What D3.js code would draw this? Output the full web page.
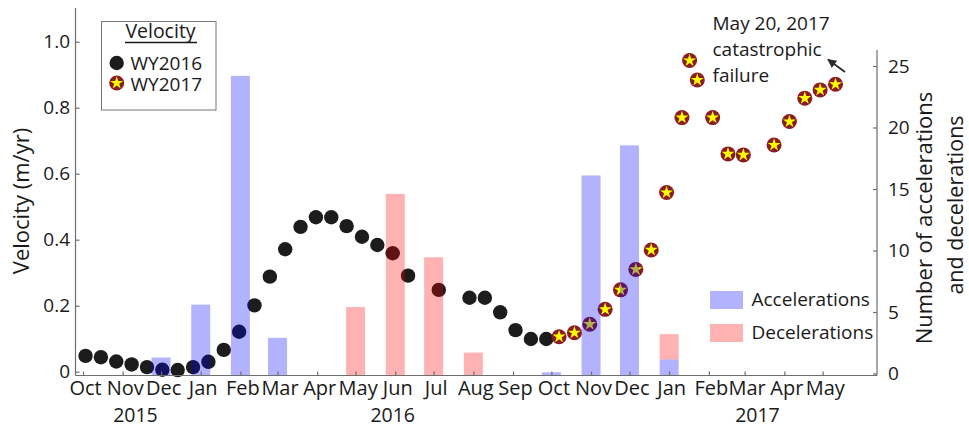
<!DOCTYPE html>
<html>
<head>
<meta charset="utf-8">
<script src="https://cdn.jsdelivr.net/npm/d3@7"></script>
<style>
  html, body { margin: 0; padding: 0; background: #fff; }
  svg { display: block; }
  text { font-family: "Open Sans", "Noto Sans", sans-serif; fill: #1a1a1a; }
</style>
</head>
<body>
<svg id="chart" width="969" height="427"></svg>
<script>
// ---------------- DATA ----------------
const wy2016Dates = ["2015-10-03","2015-10-15","2015-10-27","2015-11-08","2015-11-20","2015-12-02",
  "2015-12-14","2015-12-26","2016-01-07","2016-01-19","2016-01-31","2016-02-12","2016-02-24",
  "2016-03-07","2016-03-19","2016-03-31","2016-04-12","2016-04-24","2016-05-06","2016-05-18",
  "2016-05-30","2016-06-11","2016-07-05","2016-07-29","2016-08-10","2016-08-22","2016-09-03",
  "2016-09-15","2016-09-27"];
const wy2016Vel = [0.048,0.044,0.031,0.022,0.014,0.006,0.005,0.014,0.030,0.066,0.121,0.201,0.288,
  0.371,0.439,0.468,0.468,0.441,0.409,0.384,0.359,0.291,0.248,0.224,0.224,0.180,0.126,0.099,0.099];

const wy2017Dates = ["2016-10-07","2016-10-19","2016-10-31","2016-11-12","2016-11-24","2016-12-06",
  "2016-12-18","2016-12-30","2017-01-11","2017-01-17","2017-01-23","2017-02-04","2017-02-16",
  "2017-02-28","2017-03-24","2017-04-05","2017-04-17","2017-04-29","2017-05-11"];
const wy2017Vel = [0.106,0.118,0.144,0.189,0.248,0.310,0.369,0.543,0.770,0.943,0.884,0.770,0.660,
  0.657,0.687,0.758,0.829,0.854,0.871];

const barMonths = ["2015-12-01","2016-01-01","2016-02-01","2016-03-01","2016-05-01","2016-06-01",
  "2016-07-01","2016-08-01","2016-10-01","2016-11-01","2016-12-01","2017-01-01"];
const accelerations = [1.3,5.6,24.2,2.9,0,0,0,0,0.1,16.1,18.55,1.15];
const decelerations = [0,0,0,0,5.4,14.6,9.45,1.7,0,0,0,2.05];

const monthTicks = ["2015-10-01","2015-11-01","2015-12-01","2016-01-01","2016-02-01","2016-03-01",
  "2016-04-01","2016-05-01","2016-06-01","2016-07-01","2016-08-01","2016-09-01","2016-10-01",
  "2016-11-01","2016-12-01","2017-01-01","2017-02-01","2017-03-01","2017-04-01","2017-05-01"];
const yearLabels = ["2015","2016","2017"];
const yearAnchors = ["2015-11-11","2016-05-30","2017-03-11"];
const velocityTicks = [0,0.2,0.4,0.6,0.8,1.0];
const countTicks = [0,5,10,15,20,25];
const annotationLines = ["May 20, 2017","catastrophic","failure"];

// ---------------- LAYOUT ----------------
const svg = d3.select("#chart");
const parse = d3.utcParse("%Y-%m-%d");
const left = 75.5, right = 877, bottom = 375.5, topL = 8, topR = 50;

const x = d3.scaleUtc().domain([parse("2015-10-01"), parse("2017-05-01")]).range([83, 822.7]);
const yL = d3.scaleLinear().domain([0, 1]).range([371.7, 41.7]);
const yR = d3.scaleLinear().domain([0, 25]).range([373.5, 66]);

const axisColor = "#6e6e6e";

// markers WY2016
svg.append("g").selectAll("circle").data(wy2016Dates).join("circle")
  .attr("cx", d => x(parse(d)))
  .attr("cy", (d, i) => yL(wy2016Vel[i]))
  .attr("r", 7.2)
  .attr("fill", "#1c1c1c");

// markers WY2017
const starPath = d3.symbol().type(d3.symbolStar).size(52)();
const g17 = svg.append("g").selectAll("g").data(wy2017Dates).join("g")
  .attr("transform", (d, i) => `translate(${x(parse(d))},${yL(wy2017Vel[i])})`);
g17.append("circle").attr("r", 7.5).attr("fill", "#8a1c24");
g17.append("path").attr("d", starPath).attr("fill", "#ffff00");

// bars (translucent, on top)
const barW = 19;
const barIdx = d3.range(barMonths.length);
const bars = svg.append("g");
bars.selectAll("rect.acc").data(barIdx.filter(i => accelerations[i] > 0)).join("rect").attr("class", "acc")
  .attr("x", i => x(parse(barMonths[i])) - barW / 2)
  .attr("width", barW)
  .attr("y", i => yR(accelerations[i]))
  .attr("height", i => bottom - yR(accelerations[i]))
  .attr("fill", "rgba(0,0,255,0.3)");
bars.selectAll("rect.dec").data(barIdx.filter(i => decelerations[i] > 0)).join("rect").attr("class", "dec")
  .attr("x", i => x(parse(barMonths[i])) - barW / 2)
  .attr("width", barW)
  .attr("y", i => yR(accelerations[i] + decelerations[i]))
  .attr("height", i => (accelerations[i] > 0 ? yR(accelerations[i]) : bottom) - yR(accelerations[i] + decelerations[i]))
  .attr("fill", "rgba(255,0,0,0.3)");

// axes lines
svg.append("line").attr("x1", left).attr("x2", left).attr("y1", topL).attr("y2", bottom)
  .attr("stroke", axisColor).attr("stroke-width", 1.2);
svg.append("line").attr("x1", right).attr("x2", right).attr("y1", topR).attr("y2", bottom)
  .attr("stroke", axisColor).attr("stroke-width", 1.2);
svg.append("line").attr("x1", left).attr("x2", right).attr("y1", bottom).attr("y2", bottom)
  .attr("stroke", axisColor).attr("stroke-width", 1.2);

// left axis
const gL = svg.append("g").attr("transform", `translate(${left},0)`)
  .call(d3.axisLeft(yL).tickValues(velocityTicks).tickSize(-4).tickPadding(5.5)
    .tickFormat(d => d === 0 ? "0" : d3.format(".1f")(d)));
// right axis
const gR = svg.append("g").attr("transform", `translate(${right},0)`)
  .call(d3.axisRight(yR).tickValues(countTicks).tickSize(-4).tickPadding(11));
// bottom axis
const gB = svg.append("g").attr("transform", `translate(0,${bottom})`)
  .call(d3.axisBottom(x).tickValues(monthTicks.map(parse)).tickSize(-4).tickPadding(5)
    .tickFormat(d3.utcFormat("%b")));
[gL, gR, gB].forEach(g => {
  g.select(".domain").remove();
  g.selectAll(".tick line").attr("stroke", axisColor).attr("stroke-width", 1.2);
  g.selectAll(".tick text").attr("font-size", 19).attr("font-family", '"Open Sans", sans-serif')
    .attr("fill", "#1a1a1a");
});
gB.selectAll(".tick text").attr("font-size", 20).attr("dx", 2);

// year labels
svg.append("g").selectAll("text").data(yearLabels).join("text")
  .attr("x", (d, i) => x(parse(yearAnchors[i])))
  .attr("y", 422)
  .attr("text-anchor", "middle")
  .attr("font-size", 19.5)
  .text(d => d);

// axis titles
svg.append("text")
  .attr("transform", "translate(29,201) rotate(-90)")
  .attr("text-anchor", "middle").attr("font-size", 22)
  .text("Velocity (m/yr)");
svg.append("text")
  .attr("transform", "translate(932,218) rotate(-90)")
  .attr("text-anchor", "middle").attr("font-size", 22)
  .text("Number of accelerations");
svg.append("text")
  .attr("transform", "translate(963,205) rotate(-90)")
  .attr("text-anchor", "middle").attr("font-size", 21.5)
  .text("and decelerations");

// velocity legend
const lg = svg.append("g");
lg.append("rect").attr("x", 101.5).attr("y", 21.5).attr("width", 114.5).attr("height", 88.5)
  .attr("fill", "#fff").attr("stroke", "#777").attr("stroke-width", 1);
lg.append("text").attr("x", 160.5).attr("y", 37.5).attr("text-anchor", "middle")
  .attr("font-size", 19.5).text("Velocity");
lg.append("line").attr("x1", 125).attr("x2", 197).attr("y1", 42.5).attr("y2", 42.5)
  .attr("stroke", "#1a1a1a").attr("stroke-width", 1.3);
lg.append("circle").attr("cx", 116.7).attr("cy", 63).attr("r", 7.2).attr("fill", "#1c1c1c");
lg.append("text").attr("x", 130.5).attr("y", 69.5).attr("font-size", 19).text("WY2016");
const ls = lg.append("g").attr("transform", "translate(116.7,83)");
ls.append("circle").attr("r", 7.5).attr("fill", "#8a1c24");
ls.append("path").attr("d", starPath).attr("fill", "#ffff00");
lg.append("text").attr("x", 130.5).attr("y", 91).attr("font-size", 19).text("WY2017");

// bar legend
const bl = svg.append("g");
bl.append("rect").attr("x", 710).attr("y", 291).attr("width", 33).attr("height", 18)
  .attr("fill", "rgba(0,0,255,0.3)");
bl.append("text").attr("x", 751.5).attr("y", 306).attr("font-size", 19).text("Accelerations");
bl.append("rect").attr("x", 710).attr("y", 324).attr("width", 33).attr("height", 18)
  .attr("fill", "rgba(255,0,0,0.3)");
bl.append("text").attr("x", 751.5).attr("y", 339).attr("font-size", 19).text("Decelerations");

// annotation
svg.append("g").selectAll("text").data(annotationLines).join("text")
  .attr("x", 712.5)
  .attr("y", (d, i) => 30 + i * 25.8)
  .attr("font-size", 19)
  .text(d => d);
svg.append("defs").append("marker")
  .attr("id", "arrow").attr("viewBox", "0 0 10 10").attr("refX", 9).attr("refY", 5)
  .attr("markerWidth", 5).attr("markerHeight", 5).attr("orient", "auto")
  .append("path").attr("d", "M0,0 L10,5 L0,10 z").attr("fill", "#2a2a2a");
svg.append("line").attr("x1", 845).attr("y1", 72).attr("x2", 828).attr("y2", 59.5)
  .attr("stroke", "#2a2a2a").attr("stroke-width", 1.8).attr("marker-end", "url(#arrow)");
</script>
</body>
</html>
